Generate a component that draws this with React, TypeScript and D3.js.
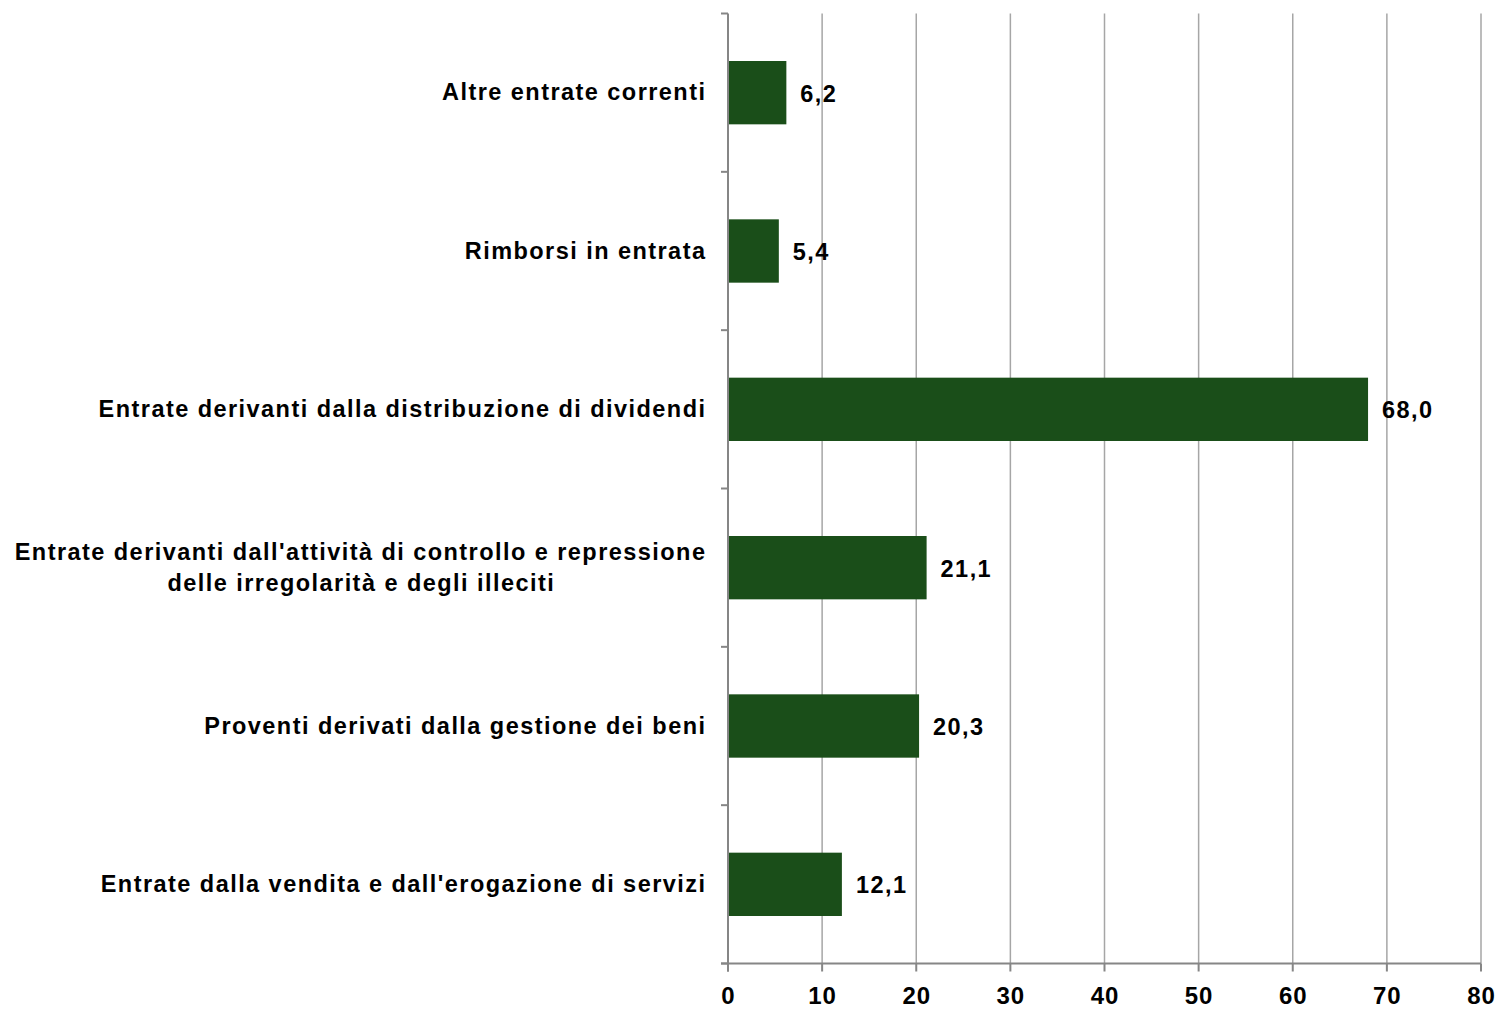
import React, { useLayoutEffect, useRef, useState } from "react";
import * as d3 from "d3";

const categories = [
  "Altre entrate correnti",
  "Rimborsi in entrata",
  "Entrate derivanti dalla distribuzione di dividendi",
  "Entrate derivanti dall'attività di controllo e repressione|delle irregolarità e degli illeciti",
  "Proventi derivati dalla gestione dei beni",
  "Entrate dalla vendita e dall'erogazione di servizi",
];
const values = [6.2, 5.4, 68.0, 21.1, 20.3, 12.1];
const xTicks = [0, 10, 20, 30, 40, 50, 60, 70, 80];

const W = 1500;
const H = 1009;
const left = 728;
const right = 1481;
const top = 13.5;
const bottom = 963.5;
const labelRight = 705;
const FONT = "'Liberation Sans', Arial, sans-serif";
const FS = 23.5;
const LS = 1.45;
const BAR = "#1a4e19";
const GRID = "#a6a6a6";
const AXIS = "#868686";

function CategoryLabel({ text, cy }: { text: string; cy: number }) {
  const lines = text.split("|");
  const ref = useRef<SVGTextElement>(null);
  const [w, setW] = useState(0);
  useLayoutEffect(() => {
    if (ref.current) setW(ref.current.getBBox().width);
  }, [text]);
  const lh = 31;
  const xr = labelRight + LS;
  if (lines.length === 1) {
    return (
      <text
        x={xr}
        y={cy + 7.5}
        textAnchor="end"
        fontSize={FS}
        letterSpacing={LS}
        fontWeight="bold"
        fill="#000"
      >
        {text}
      </text>
    );
  }
  const cx = xr - w / 2 + LS / 2;
  return (
    <g>
      <text
        ref={ref}
        x={xr}
        y={cy - lh / 2 + 8}
        textAnchor="end"
        fontSize={FS}
        letterSpacing={LS}
        fontWeight="bold"
        fill="#000"
      >
        {lines[0]}
      </text>
      {lines.slice(1).map((ln, j) => (
        <text
          key={j}
          x={cx}
          y={cy - lh / 2 + 8 + (j + 1) * lh}
          textAnchor="middle"
          fontSize={FS}
          letterSpacing={LS}
          fontWeight="bold"
          fill="#000"
        >
          {ln}
        </text>
      ))}
    </g>
  );
}

export default function App() {
  const x = d3.scaleLinear().domain([0, 80]).range([left, right]);
  const y = d3
    .scaleBand<string>()
    .domain(categories)
    .range([top, bottom])
    .paddingInner(0.6)
    .paddingOuter(0.3);
  const step = y.step();
  const bandEdges = d3.range(categories.length + 1).map((i) => top + i * step);
  const fmt = (v: number) => v.toFixed(1).replace(".", ",");

  return (
    <svg
      width={W}
      height={H}
      style={{ position: "absolute", left: 0, top: 0, background: "#fff" }}
      fontFamily={FONT}
    >
      {xTicks.slice(1).map((t) => (
        <line key={"g" + t} x1={x(t)} x2={x(t)} y1={top} y2={bottom} stroke={GRID} strokeWidth={1.5} />
      ))}
      {categories.map((c, i) => (
        <rect
          key={"b" + i}
          x={x(0)}
          y={y(c)!}
          width={x(values[i]) - x(0)}
          height={y.bandwidth()}
          fill={BAR}
        />
      ))}
      {/* y axis */}
      <line x1={left} x2={left} y1={top} y2={bottom + 8} stroke={AXIS} strokeWidth={2} />
      {bandEdges.map((e, i) => (
        <line key={"yt" + i} x1={left - 7} x2={left} y1={e} y2={e} stroke={AXIS} strokeWidth={2} />
      ))}
      {/* x axis */}
      <line x1={left - 7} x2={right} y1={bottom} y2={bottom} stroke={AXIS} strokeWidth={2} />
      {xTicks.map((t) => (
        <line key={"xt" + t} x1={x(t)} x2={x(t)} y1={bottom} y2={bottom + 8} stroke={AXIS} strokeWidth={2} />
      ))}
      {xTicks.map((t) => (
        <text
          key={"xl" + t}
          x={x(t) + 0.5}
          y={1004}
          textAnchor="middle"
          fontSize={24}
          letterSpacing={1}
          fontWeight="bold"
          fill="#000"
        >
          {t}
        </text>
      ))}
      {categories.map((c, i) => (
        <CategoryLabel key={"cl" + i} text={c} cy={y(c)! + y.bandwidth() / 2} />
      ))}
      {categories.map((c, i) => (
        <text
          key={"vl" + i}
          x={x(values[i]) + 14}
          y={y(c)! + y.bandwidth() / 2 + 9}
          fontSize={FS}
          letterSpacing={LS}
          fontWeight="bold"
          fill="#000"
        >
          {fmt(values[i])}
        </text>
      ))}
    </svg>
  );
}
